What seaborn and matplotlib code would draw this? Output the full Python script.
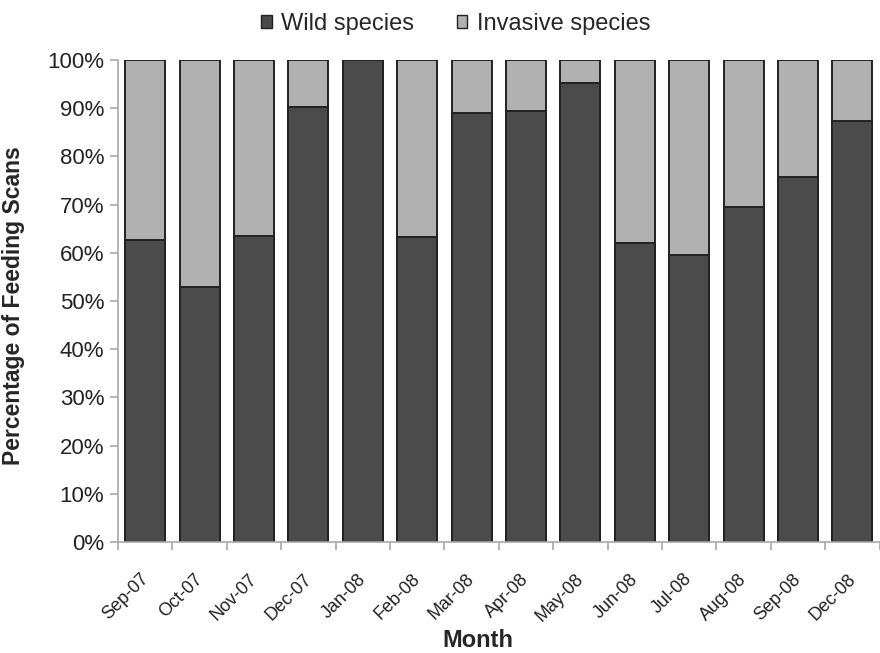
import matplotlib
matplotlib.use("Agg")
import matplotlib.pyplot as plt
import matplotlib.transforms as mtransforms
from matplotlib.patches import Patch
from matplotlib.ticker import FixedLocator, PercentFormatter
import seaborn as sns
import pandas as pd

months = ["Sep-07", "Oct-07", "Nov-07", "Dec-07", "Jan-08", "Feb-08", "Mar-08",
          "Apr-08", "May-08", "Jun-08", "Jul-08", "Aug-08", "Sep-08", "Dec-08"]
wild_pct = [62.7, 53.0, 63.5, 90.3, 100.0, 63.3, 89.1,
            89.5, 95.3, 62.0, 59.5, 69.4, 75.8, 87.3]
invasive_pct = [100.0 - w for w in wild_pct]

df = pd.DataFrame({"Month": months, "Wild": wild_pct, "Invasive": invasive_pct})
df["Total"] = df["Wild"] + df["Invasive"]

sns.set_style("white")
plt.rcParams["font.family"] = ["Liberation Sans", "DejaVu Sans"]

dark = "#4b4b4b"
light = "#b1b1b1"
edge = "#222222"
axis_grey = "#a8a8a8"

W, H = 880, 653
fig = plt.figure(figsize=(W / 100, H / 100), dpi=100)
ax = fig.add_axes([118 / W, 1 - 542 / H, 761.6 / W, 482 / H])

# stacked 100% bars: full-height invasive layer underneath, wild share on top
sns.barplot(data=df, x="Month", y="Total", color=light, edgecolor=edge,
            linewidth=1.4, width=0.735, saturation=1, ax=ax)
sns.barplot(data=df, x="Month", y="Wild", color=dark, edgecolor=edge,
            linewidth=1.4, width=0.735, saturation=1, ax=ax)

ax.set_ylim(0, 100)
ax.set_xlim(-0.5, len(months) - 0.5)
ax.yaxis.set_major_locator(FixedLocator(range(0, 101, 10)))
ax.yaxis.set_major_formatter(PercentFormatter(decimals=0))

for side in ("top", "right"):
    ax.spines[side].set_visible(False)
for side in ("left", "bottom"):
    ax.spines[side].set_color(axis_grey)
    ax.spines[side].set_linewidth(1.2)

ax.tick_params(axis="y", which="major", left=True, length=6, width=1.2,
               color=axis_grey, labelsize=16, pad=4, labelcolor="#222222")
ax.tick_params(axis="x", which="major", bottom=False, labelsize=13,
               pad=17, labelcolor="#222222")
ax.xaxis.set_minor_locator(FixedLocator([i - 0.5 for i in range(len(months) + 1)]))
ax.tick_params(axis="x", which="minor", bottom=True, length=6, width=1.2,
               color=axis_grey)
ax.set_xticks(range(len(months)))
ax.set_xticklabels(months, rotation=45, ha="right", rotation_mode="anchor")
shift = mtransforms.ScaledTranslation(-4 / 72, 0, fig.dpi_scale_trans)
for lbl in ax.get_xticklabels():
    lbl.set_transform(lbl.get_transform() + shift)

ax.set_xlabel("Month", fontsize=17, fontweight="bold")
ax.xaxis.set_label_coords(0.473, -0.18)
ax.set_ylabel("Percentage of Feeding Scans", fontsize=16.5, fontweight="bold")
ax.yaxis.set_label_coords(-0.122, 0.49)

handles = [Patch(facecolor=dark, edgecolor=edge, linewidth=1.0, label="Wild species"),
           Patch(facecolor=light, edgecolor=edge, linewidth=1.0, label="Invasive species")]
fig.legend(handles=handles, loc="center", bbox_to_anchor=(0.518, 1 - 24 / H),
           ncol=2, frameon=False, fontsize=17, handlelength=0.45,
           handleheight=0.45, handletextpad=0.4, columnspacing=1.8,
           borderpad=0)

fig.savefig("out.png", dpi=100)
